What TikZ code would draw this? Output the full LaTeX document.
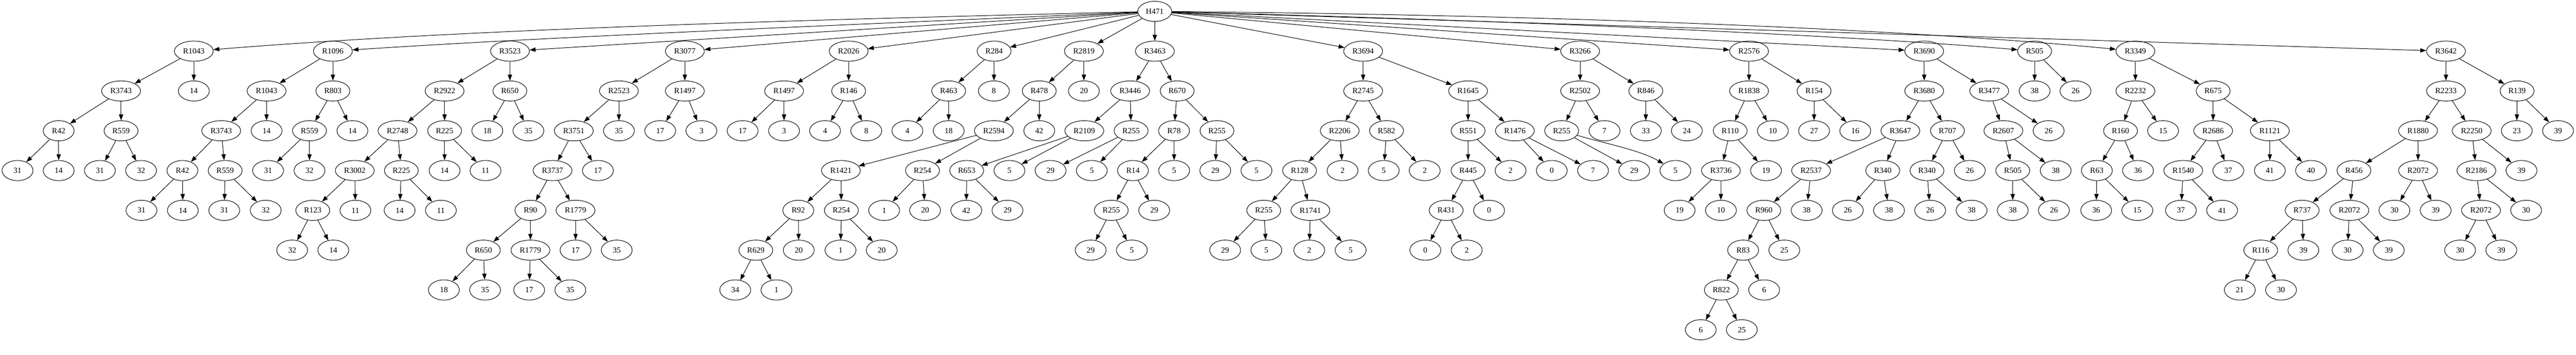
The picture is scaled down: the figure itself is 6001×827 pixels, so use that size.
\documentclass[tikz,border=0pt]{standalone}
\usepackage{fontspec}
\setmainfont{Liberation Serif}
\usetikzlibrary{arrows.meta,shapes.geometric}
\tikzset{
  v/.style={draw, ellipse, inner sep=0pt, minimum height=35.25pt, line width=0.9pt, font=\fontsize{14pt}{16pt}\selectfont},
  v3/.style={v, minimum width=54pt},
  v4/.style={v, minimum width=59.25pt},
  v5/.style={v, minimum width=68pt},
  edg/.style={-{Triangle[length=10.5pt,width=7.5pt]}, line width=0.9pt},
}
\newcommand\tkid[6]{\node[#6] (#1#2) at (#4,#5) {#3}; \draw[edg] (#1) -- (#1#2);}
\def\gyA{26.5}
\def\gyB{119.35}
\def\gyC{212.2}
\def\gyD{305.05}
\def\gyE{397.9}
\def\gyF{490.75}
\def\gyG{583.6}
\def\gyH{676.45}
\def\gyI{769.3}
\begin{document}
\begin{tikzpicture}[x=0.75pt,y=-0.75pt]
\useasboundingbox (0,0) rectangle (6001,827);
% row 0 and 1
\node[v4] (root) at (2690,\gyA) {H471};
\node[v5] (a) at (451.5,\gyB) {R1043};
\node[v5] (b) at (775.5,\gyB) {R1096};
\node[v5] (c) at (1188,\gyB) {R3523};
\node[v5] (d) at (1595.4,\gyB) {R3077};
\node[v5] (e) at (1977,\gyB) {R2026};
\node[v4] (f) at (2315.8,\gyB) {R284};
\node[v5] (g) at (2525,\gyB) {R2819};
\node[v5] (h) at (2690.3,\gyB) {R3463};
\node[v5] (i) at (3175.5,\gyB) {R3694};
\node[v5] (j) at (3681,\gyB) {R3266};
\node[v5] (k) at (4074.5,\gyB) {R2576};
\node[v5] (l) at (4482.6,\gyB) {R3690};
\node[v4] (m) at (4739.8,\gyB) {R505};
\node[v5] (n) at (4974.5,\gyB) {R3349};
\node[v5] (o) at (5698,\gyB) {R3642};
\draw[edg] (root) .. controls (1853,47) and (1099.5,67.3) .. (a);
\draw[edg] (root) .. controls (2053,55) and (1323,83.3) .. (b);
\foreach \t in {c,d,e,f,g,h,i,j,k,l,o} \draw[edg] (root) -- (\t);
\draw[edg] (root) .. controls (3527,48) and (4300,82) .. (m);
\draw[edg] (root) .. controls (3900,38) and (4600,83) .. (n);
% row 2
\tkid{a}{1}{R3743}{282}{\gyC}{v5}
\tkid{a}{2}{14}{451.5}{\gyC}{v3}
\tkid{b}{1}{R1043}{621}{\gyC}{v5}
\tkid{b}{2}{R803}{775.5}{\gyC}{v4}
\tkid{c}{1}{R2922}{1035.7}{\gyC}{v5}
\tkid{c}{2}{R650}{1187.8}{\gyC}{v4}
\tkid{d}{1}{R2523}{1441.8}{\gyC}{v5}
\tkid{d}{2}{R1497}{1595.4}{\gyC}{v5}
\tkid{e}{1}{R1497}{1826.5}{\gyC}{v5}
\tkid{e}{2}{R146}{1977}{\gyC}{v4}
\tkid{f}{1}{R463}{2210}{\gyC}{v4}
\tkid{f}{2}{8}{2315.3}{\gyC}{v3}
\tkid{g}{1}{R478}{2421}{\gyC}{v4}
\tkid{g}{2}{20}{2525}{\gyC}{v3}
\tkid{h}{1}{R3446}{2632.7}{\gyC}{v5}
\tkid{h}{2}{R670}{2742.3}{\gyC}{v4}
\tkid{i}{1}{R2745}{3175.5}{\gyC}{v5}
\tkid{i}{2}{R1645}{3420}{\gyC}{v5}
\tkid{j}{1}{R2502}{3681}{\gyC}{v5}
\tkid{j}{2}{R846}{3834}{\gyC}{v4}
\tkid{k}{1}{R1838}{4074.5}{\gyC}{v5}
\tkid{k}{2}{R154}{4226}{\gyC}{v4}
\tkid{l}{1}{R3680}{4482.6}{\gyC}{v5}
\tkid{l}{2}{R3477}{4634}{\gyC}{v5}
\tkid{m}{1}{38}{4739.8}{\gyC}{v3}
\tkid{m}{2}{26}{4835}{\gyC}{v3}
\tkid{n}{1}{R2232}{4974.5}{\gyC}{v5}
\tkid{n}{2}{R675}{5155.6}{\gyC}{v4}
\tkid{o}{1}{R2233}{5698}{\gyC}{v5}
\tkid{o}{2}{R139}{5863.7}{\gyC}{v4}
% row 3
\tkid{a1}{1}{R42}{136.7}{\gyD}{v3}
\tkid{a1}{2}{R559}{282}{\gyD}{v4}
\tkid{b1}{1}{R3743}{515.3}{\gyD}{v5}
\tkid{b1}{2}{14}{621}{\gyD}{v3}
\tkid{b2}{1}{R559}{721}{\gyD}{v4}
\tkid{b2}{2}{14}{821}{\gyD}{v3}
\tkid{c1}{1}{R2748}{926}{\gyD}{v5}
\tkid{c1}{2}{R225}{1035.7}{\gyD}{v4}
\tkid{c2}{1}{18}{1135.2}{\gyD}{v3}
\tkid{c2}{2}{35}{1231}{\gyD}{v3}
\tkid{d1}{1}{R3751}{1336.7}{\gyD}{v5}
\tkid{d1}{2}{35}{1441.8}{\gyD}{v3}
\tkid{d2}{1}{17}{1538}{\gyD}{v3}
\tkid{d2}{2}{3}{1634}{\gyD}{v3}
\tkid{e1}{1}{17}{1730}{\gyD}{v3}
\tkid{e1}{2}{3}{1826.5}{\gyD}{v3}
\tkid{e2}{1}{4}{1922}{\gyD}{v3}
\tkid{e2}{2}{8}{2018}{\gyD}{v3}
\tkid{f1}{1}{4}{2113.8}{\gyD}{v3}
\tkid{f1}{2}{18}{2210}{\gyD}{v3}
\tkid{g1}{1}{R2594}{2315.3}{\gyD}{v5}
\tkid{g1}{2}{42}{2421}{\gyD}{v3}
\tkid{h1}{1}{R2109}{2526}{\gyD}{v5}
\tkid{h1}{2}{R255}{2635}{\gyD}{v4}
\tkid{h2}{1}{R78}{2735}{\gyD}{v3}
\tkid{h2}{2}{R255}{2835}{\gyD}{v4}
\tkid{i1}{1}{R2206}{3121}{\gyD}{v5}
\tkid{i1}{2}{R582}{3230}{\gyD}{v4}
\tkid{i2}{1}{R551}{3420}{\gyD}{v4}
\tkid{i2}{2}{R1476}{3529}{\gyD}{v5}
\tkid{j1}{1}{R255}{3638}{\gyD}{v4}
\tkid{j1}{2}{7}{3737.8}{\gyD}{v3}
\tkid{j2}{1}{33}{3834}{\gyD}{v3}
\tkid{j2}{2}{24}{3929.6}{\gyD}{v3}
\tkid{k1}{1}{R110}{4030.6}{\gyD}{v4}
\tkid{k1}{2}{10}{4130}{\gyD}{v3}
\tkid{k2}{1}{27}{4226}{\gyD}{v3}
\tkid{k2}{2}{16}{4322}{\gyD}{v3}
\tkid{l1}{1}{R3647}{4427}{\gyD}{v5}
\tkid{l1}{2}{R707}{4536.7}{\gyD}{v4}
\tkid{l2}{1}{R2607}{4667}{\gyD}{v5}
\tkid{l2}{2}{26}{4772.4}{\gyD}{v3}
\tkid{n1}{1}{R160}{4939.8}{\gyD}{v4}
\tkid{n1}{2}{15}{5039}{\gyD}{v3}
\tkid{n2}{1}{R2686}{5155.6}{\gyD}{v5}
\tkid{n2}{2}{R1121}{5287.7}{\gyD}{v5}
\tkid{o1}{1}{R1880}{5633}{\gyD}{v5}
\tkid{o1}{2}{R2250}{5758}{\gyD}{v5}
\tkid{o2}{1}{23}{5863}{\gyD}{v3}
\tkid{o2}{2}{39}{5959}{\gyD}{v3}
% row 4
\tkid{a11}{1}{31}{40.8}{\gyE}{v3}
\tkid{a11}{2}{14}{136.7}{\gyE}{v3}
\tkid{a12}{1}{31}{232.7}{\gyE}{v3}
\tkid{a12}{2}{32}{328.6}{\gyE}{v3}
\tkid{b11}{1}{R42}{425}{\gyE}{v3}
\tkid{b11}{2}{R559}{524.5}{\gyE}{v4}
\tkid{b21}{1}{31}{624.5}{\gyE}{v3}
\tkid{b21}{2}{32}{721}{\gyE}{v3}
\tkid{c11}{1}{R3002}{826.5}{\gyE}{v5}
\tkid{c11}{2}{R225}{935}{\gyE}{v4}
\tkid{c12}{1}{14}{1035.7}{\gyE}{v3}
\tkid{c12}{2}{11}{1131}{\gyE}{v3}
\tkid{d11}{1}{R3737}{1287.2}{\gyE}{v5}
\tkid{d11}{2}{17}{1392.9}{\gyE}{v3}
\tkid{g11}{1}{R1421}{1959}{\gyE}{v5}
\tkid{g11}{2}{R254}{2149}{\gyE}{v4}
\tkid{h11}{1}{R653}{2252}{\gyE}{v4}
\tkid{h11}{2}{5}{2351.5}{\gyE}{v3}
\tkid{h12}{1}{29}{2447.4}{\gyE}{v3}
\tkid{h12}{2}{5}{2543.4}{\gyE}{v3}
\tkid{h21}{1}{R14}{2639.3}{\gyE}{v3}
\tkid{h21}{2}{5}{2735.2}{\gyE}{v3}
\tkid{h22}{1}{29}{2831}{\gyE}{v3}
\tkid{h22}{2}{5}{2927}{\gyE}{v3}
\tkid{i11}{1}{R128}{3027.5}{\gyE}{v4}
\tkid{i11}{2}{2}{3127.6}{\gyE}{v3}
\tkid{i12}{1}{5}{3223.5}{\gyE}{v3}
\tkid{i12}{2}{2}{3319}{\gyE}{v3}
\tkid{i21}{1}{R445}{3420}{\gyE}{v4}
\tkid{i21}{2}{2}{3519}{\gyE}{v3}
\tkid{i22}{1}{0}{3615}{\gyE}{v3}
\tkid{i22}{2}{7}{3711}{\gyE}{v3}
\tkid{j11}{1}{29}{3807}{\gyE}{v3}
\node[v3] (j112) at (3903,\gyE) {5};
\draw[edg] (j11) .. controls (3740,335) and (3820,350) .. (j112);
\tkid{k11}{1}{R3736}{4009}{\gyE}{v5}
\tkid{k11}{2}{19}{4114}{\gyE}{v3}
\tkid{l11}{1}{R2537}{4219}{\gyE}{v5}
\tkid{l11}{2}{R340}{4386}{\gyE}{v4}
\tkid{l12}{1}{R340}{4489}{\gyE}{v4}
\tkid{l12}{2}{26}{4588.8}{\gyE}{v3}
\tkid{l21}{1}{R505}{4688.8}{\gyE}{v4}
\tkid{l21}{2}{38}{4788.8}{\gyE}{v3}
\tkid{n11}{1}{R63}{4884.7}{\gyE}{v3}
\tkid{n11}{2}{36}{4980.6}{\gyE}{v3}
\tkid{n21}{1}{R1540}{5086}{\gyE}{v5}
\tkid{n21}{2}{37}{5191}{\gyE}{v3}
\tkid{n22}{1}{41}{5287.7}{\gyE}{v3}
\tkid{n22}{2}{40}{5383.7}{\gyE}{v3}
\tkid{o11}{1}{R456}{5483.7}{\gyE}{v4}
\tkid{o11}{2}{R2072}{5633}{\gyE}{v5}
\tkid{o12}{1}{R2186}{5768.9}{\gyE}{v5}
\tkid{o12}{2}{39}{5874}{\gyE}{v3}
% row 5
\tkid{b111}{1}{31}{329.6}{\gyF}{v3}
\tkid{b111}{2}{14}{426}{\gyF}{v3}
\tkid{b112}{1}{31}{522.4}{\gyF}{v3}
\tkid{b112}{2}{32}{619}{\gyF}{v3}
\tkid{c111}{1}{R123}{728.6}{\gyF}{v4}
\tkid{c111}{2}{11}{828}{\gyF}{v3}
\tkid{c112}{1}{14}{931}{\gyF}{v3}
\tkid{c112}{2}{11}{1027}{\gyF}{v3}
\tkid{d111}{1}{R90}{1235.7}{\gyF}{v3}
\tkid{d111}{2}{R1779}{1340.8}{\gyF}{v5}
\tkid{g111}{1}{R92}{1859.7}{\gyF}{v3}
\tkid{g111}{2}{R254}{1960}{\gyF}{v4}
\tkid{g112}{1}{1}{2059.7}{\gyF}{v3}
\tkid{g112}{2}{20}{2155}{\gyF}{v3}
\tkid{h111}{1}{42}{2251}{\gyF}{v3}
\tkid{h111}{2}{29}{2347}{\gyF}{v3}
\tkid{h211}{1}{R255}{2588.8}{\gyF}{v4}
\tkid{h211}{2}{29}{2688.8}{\gyF}{v3}
\tkid{i111}{1}{R255}{2944}{\gyF}{v4}
\tkid{i111}{2}{R1741}{3052.6}{\gyF}{v5}
\tkid{i211}{1}{R431}{3368.9}{\gyF}{v4}
\tkid{i211}{2}{0}{3468.9}{\gyF}{v3}
\tkid{k111}{1}{19}{3912.8}{\gyF}{v3}
\tkid{k111}{2}{10}{4009}{\gyF}{v3}
\tkid{l111}{1}{R960}{4109}{\gyF}{v4}
\tkid{l111}{2}{38}{4208.7}{\gyF}{v3}
\tkid{l112}{1}{26}{4304.6}{\gyF}{v3}
\tkid{l112}{2}{38}{4400.5}{\gyF}{v3}
\tkid{l121}{1}{26}{4496.4}{\gyF}{v3}
\tkid{l121}{2}{38}{4592.9}{\gyF}{v3}
\tkid{l211}{1}{38}{4688.8}{\gyF}{v3}
\tkid{l211}{2}{26}{4784.7}{\gyF}{v3}
\tkid{n111}{1}{36}{4883.2}{\gyF}{v3}
\tkid{n111}{2}{15}{4979}{\gyF}{v3}
\tkid{n211}{1}{37}{5080.6}{\gyF}{v3}
\tkid{n211}{2}{41}{5176.5}{\gyF}{v3}
\tkid{o111}{1}{R737}{5363}{\gyF}{v4}
\tkid{o111}{2}{R2072}{5473}{\gyF}{v5}
\tkid{o112}{1}{30}{5578}{\gyF}{v3}
\tkid{o112}{2}{39}{5674}{\gyF}{v3}
\tkid{o121}{1}{R2072}{5779.6}{\gyF}{v5}
\tkid{o121}{2}{30}{5884.7}{\gyF}{v3}
% row 6
\tkid{c1111}{1}{32}{680.6}{\gyG}{v3}
\tkid{c1111}{2}{14}{776.5}{\gyG}{v3}
\tkid{d1111}{1}{R650}{1126}{\gyG}{v4}
\tkid{d1111}{2}{R1779}{1235.7}{\gyG}{v5}
\tkid{d1112}{1}{17}{1340.8}{\gyG}{v3}
\tkid{d1112}{2}{35}{1436.7}{\gyG}{v3}
\tkid{g1111}{1}{R629}{1760.7}{\gyG}{v4}
\tkid{g1111}{2}{20}{1860.7}{\gyG}{v3}
\tkid{g1112}{1}{1}{1958}{\gyG}{v3}
\tkid{g1112}{2}{20}{2054}{\gyG}{v3}
\tkid{h2111}{1}{29}{2540.8}{\gyG}{v3}
\tkid{h2111}{2}{5}{2636.7}{\gyG}{v3}
\tkid{i1111}{1}{29}{2854}{\gyG}{v3}
\tkid{i1111}{2}{5}{2950}{\gyG}{v3}
\tkid{i1112}{1}{2}{3050}{\gyG}{v3}
\tkid{i1112}{2}{5}{3146.4}{\gyG}{v3}
\tkid{i2111}{1}{0}{3320.4}{\gyG}{v3}
\tkid{i2111}{2}{2}{3416.8}{\gyG}{v3}
\tkid{l1111}{1}{R83}{4060.7}{\gyG}{v3}
\tkid{l1111}{2}{25}{4156.6}{\gyG}{v3}
\tkid{o1111}{1}{R116}{5266.5}{\gyG}{v4}
\tkid{o1111}{2}{39}{5365.8}{\gyG}{v3}
\tkid{o1112}{1}{30}{5468.9}{\gyG}{v3}
\tkid{o1112}{2}{39}{5564.8}{\gyG}{v3}
\tkid{o1211}{1}{30}{5731}{\gyG}{v3}
\tkid{o1211}{2}{39}{5827}{\gyG}{v3}
% row 7
\tkid{d11111}{1}{18}{1034}{\gyH}{v3}
\tkid{d11111}{2}{35}{1130}{\gyH}{v3}
\tkid{d11112}{1}{17}{1232.7}{\gyH}{v3}
\tkid{d11112}{2}{35}{1328.6}{\gyH}{v3}
\tkid{g11111}{1}{34}{1712.8}{\gyH}{v3}
\tkid{g11111}{2}{1}{1808.7}{\gyH}{v3}
\tkid{l11111}{1}{R822}{4010}{\gyH}{v4}
\tkid{l11111}{2}{6}{4109.7}{\gyH}{v3}
\tkid{o11111}{1}{21}{5217.8}{\gyH}{v3}
\tkid{o11111}{2}{30}{5313.8}{\gyH}{v3}
% row 8
\tkid{l111111}{1}{6}{3962}{\gyI}{v3}
\tkid{l111111}{2}{25}{4057.7}{\gyI}{v3}
\end{tikzpicture}
\end{document}
